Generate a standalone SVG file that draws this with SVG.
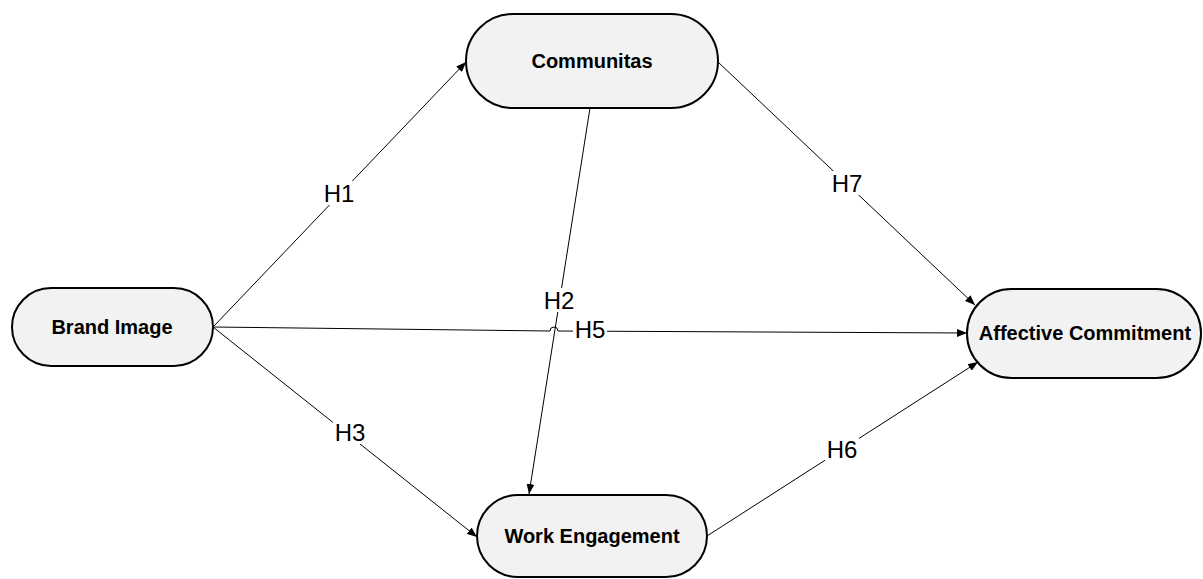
<svg xmlns="http://www.w3.org/2000/svg" width="1203" height="579" viewBox="0 0 1203 579">
<defs>
<marker id="arr" markerWidth="10" markerHeight="8" refX="10" refY="4" orient="auto" markerUnits="userSpaceOnUse">
<path d="M0,0 L10,4 L0,8 Z" fill="#000"/>
</marker>
<style>
.node rect{fill:#f2f2f2;stroke:#000;stroke-width:2}
.node text{font-family:"Liberation Sans",Arial,sans-serif;font-weight:bold;font-size:20px;text-anchor:middle;fill:#000}
.edge{fill:none;stroke:#000;stroke-width:1;marker-end:url(#arr)}
.lbl{font-family:"Liberation Sans",Arial,sans-serif;font-size:24px;text-anchor:middle;fill:#000}
.bg{fill:#fff}
</style>
</defs>
<rect width="1203" height="579" fill="#fff"/>
<g id="connectors">
<path class="edge" d="M213,327 L466,62"/>
<path class="edge" d="M213,327 L550,331 A4,4 0 0 1 558,331 L967,333"/>
<path class="edge" d="M213,327 L477,537"/>
<path class="edge" d="M590,108 L529,494"/>
<path class="edge" d="M718,62 L975,305"/>
<path class="edge" d="M707,536 L978,362"/>
<rect class="bg" x="322" y="181" width="34" height="24"/>
<text class="lbl" x="339" y="202">H1</text>
<rect class="bg" x="542" y="288" width="34" height="24"/>
<text class="lbl" x="559" y="309">H2</text>
<rect class="bg" x="333" y="420" width="34" height="24"/>
<text class="lbl" x="350" y="441">H3</text>
<rect class="bg" x="573" y="317" width="34" height="24"/>
<text class="lbl" x="590" y="338">H5</text>
<rect class="bg" x="825" y="437" width="34" height="24"/>
<text class="lbl" x="842" y="458">H6</text>
<rect class="bg" x="830" y="171" width="34" height="24"/>
<text class="lbl" x="847" y="192">H7</text>
</g>
<g id="communitas" class="node">
<rect x="466" y="14" width="252" height="94" rx="47"/>
<text x="592" y="68">Communitas</text>
</g>
<g id="brand-image" class="node">
<rect x="12" y="288" width="201" height="78" rx="39"/>
<text x="112" y="334">Brand Image</text>
</g>
<g id="affective-commitment" class="node">
<rect x="967" y="289" width="234" height="89" rx="44.5"/>
<text x="1085" y="340">Affective Commitment</text>
</g>
<g id="work-engagement" class="node">
<rect x="477" y="495" width="230" height="82" rx="41"/>
<text x="592" y="543">Work Engagement</text>
</g>
</svg>
